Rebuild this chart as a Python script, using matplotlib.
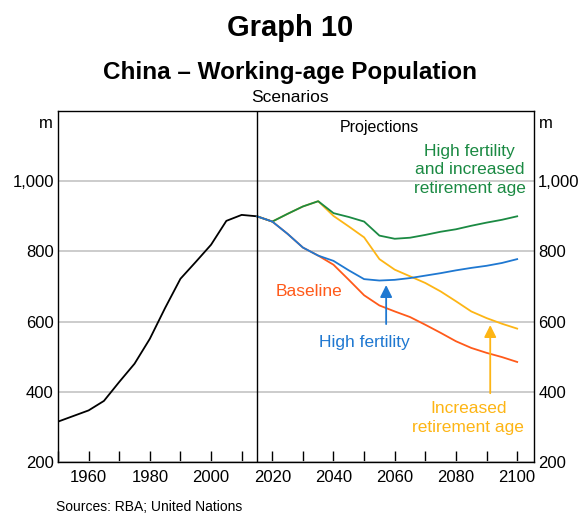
import matplotlib.pyplot as plt
from matplotlib.ticker import FuncFormatter, MultipleLocator

plt.rcParams['font.family'] = ['Liberation Sans', 'DejaVu Sans']

# historical working-age population (m)
hist_years = [1950, 1955, 1960, 1965, 1970, 1975, 1980, 1985, 1990, 1995,
              2000, 2005, 2010, 2015]
hist_pop = [315, 331, 347, 374, 428, 480, 551, 639, 722, 770,
            819, 887, 904, 900]

# projections
proj_years = [2015, 2020, 2025, 2030, 2035, 2040, 2045, 2050, 2055, 2060,
              2065, 2070, 2075, 2080, 2085, 2090, 2095, 2100]
baseline = [900, 885, 850, 811, 788, 762, 719, 675, 646, 629,
            613, 591, 568, 544, 525, 511, 499, 485]
high_fert = [900, 885, 850, 811, 788, 773, 746, 721, 717, 719,
             724, 731, 738, 746, 753, 759, 767, 778]
incr_retire = [900, 885, 907, 928, 943, 901, 871, 840, 778, 748,
               729, 710, 686, 658, 629, 610, 594, 580]
high_fert_retire = [900, 885, 907, 928, 943, 909, 898, 885, 845, 836,
                    839, 847, 856, 863, 873, 882, 890, 900]

green = '#1b8a43'
yellow = '#fdb515'
blue = '#1f78d1'
orange = '#ff5a1a'

fig = plt.figure(figsize=(5.8, 5.15), dpi=100)
ax = fig.add_axes([58/580, 1 - 462/515, (534-58)/580, (462-111)/515])

ax.grid(axis='y', color='#c8c8c8', lw=1.3)
ax.set_axisbelow(True)

ax.plot(hist_years, hist_pop, color='black', lw=1.3)
ax.plot(proj_years, incr_retire, color=yellow, lw=1.3)
ax.plot(proj_years, high_fert_retire, color=green, lw=1.3)
ax.plot(proj_years, baseline, color=orange, lw=1.3)
ax.plot(proj_years, high_fert, color=blue, lw=1.3)
ax.axvline(2015, color='black', lw=1)

ax.set_xlim(1950, 2105.5)
ax.set_ylim(200, 1200)
ax.xaxis.set_minor_locator(MultipleLocator(10))
ax.set_xticks([1960, 1980, 2000, 2020, 2040, 2060, 2080, 2100])
ax.tick_params(axis='x', which='both', direction='in', length=8, width=1,
               labelsize=12, pad=6)
ax.set_yticks([200, 400, 600, 800, 1000])
ax.yaxis.set_major_formatter(FuncFormatter(lambda v, p: f'{int(v):,}'))
ax.tick_params(axis='y', length=0, labelsize=12, pad=3,
               labelleft=True, labelright=True)
for s in ax.spines.values():
    s.set_linewidth(1)

ax.text(-0.01, 0.985, 'm', transform=ax.transAxes, ha='right', va='top', fontsize=12)
ax.text(1.01, 0.985, 'm', transform=ax.transAxes, ha='left', va='top', fontsize=12)

ax.text(2055, 1152, 'Projections', ha='center', va='center', fontsize=11.5)
ax.text(2084.5, 1032, 'High fertility\nand increased\nretirement age', ha='center',
        va='center', fontsize=12.5, color=green, linespacing=1.3)
ax.text(2032, 685, 'Baseline', ha='center', va='center', fontsize=12.5, color=orange)
ax.text(2050, 540, 'High fertility', ha='center', va='center', fontsize=12.5, color=blue)
ax.text(2084, 325, 'Increased\nretirement age', ha='center', va='center',
        fontsize=12.5, color=yellow, linespacing=1.3)

ax.annotate('', xy=(2057.2, 712), xytext=(2057.2, 585),
            arrowprops=dict(arrowstyle='-|>', color=blue, lw=1.3, mutation_scale=18))
ax.annotate('', xy=(2091.2, 598), xytext=(2091.2, 388),
            arrowprops=dict(arrowstyle='-|>', color=yellow, lw=1.3, mutation_scale=18))

fig.text(0.5, 1 - 28/515, 'Graph 10', ha='center', va='center', fontsize=21, fontweight='bold')
fig.text(0.5, 1 - 73/515, 'China – Working-age Population', ha='center', va='center',
         fontsize=17.5, fontweight='bold')
fig.text(0.5, 1 - 98/515, 'Scenarios', ha='center', va='center', fontsize=12.5)
fig.text(56/580, 1 - 507/515, 'Sources: RBA; United Nations', ha='left', va='center',
         fontsize=10)

fig.savefig('out.png', dpi=100)
